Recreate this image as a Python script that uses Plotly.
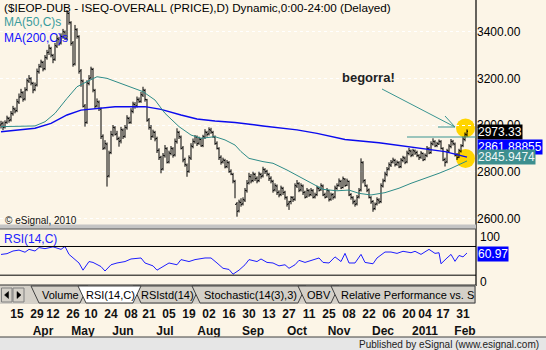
import plotly.graph_objects as go

# ---------------- data ----------------
close = [3005, 2990, 3010, 3030, 3020, 3050, 3070, 3060, 3100, 3120,
         3140, 3110, 3150, 3190, 3200, 3180, 3150, 3170, 3230, 3250,
         3270, 3240, 3290, 3310, 3330, 3300, 3280, 3340, 3370, 3350,
         3380, 3400, 3370, 3480, 3440, 3350, 3260, 3410, 3380, 3230,
         3190, 3080, 3010, 3180, 3200, 3240, 3150, 3080, 3100, 3070,
         2950, 2900, 2920, 2780, 2880, 2960, 2990, 2960, 2940, 2930,
         2980, 2950, 2990, 3030, 3010, 3060, 3090, 3080, 3110, 3100,
         3130, 3150, 3110, 3020, 2990, 2950, 2970, 2940, 2890, 2860,
         2810, 2870, 2900, 2840, 2880, 2900, 2870, 2930, 2970, 2950,
         2900, 2850, 2830, 2800, 2860, 2910, 2930, 2950, 2920, 2940,
         2910, 2950, 2970, 2960, 2980, 2970, 2950, 2920, 2900, 2860,
         2840, 2850, 2820, 2840, 2800, 2790, 2760, 2660, 2630, 2670,
         2660, 2680, 2720, 2750, 2780, 2760, 2790, 2770, 2760, 2790,
         2780, 2810, 2800, 2790, 2770, 2760, 2720, 2740, 2710, 2700,
         2730, 2710, 2690, 2660, 2670, 2690, 2680, 2740, 2750, 2720,
         2740, 2710, 2690, 2720, 2700, 2720, 2690, 2700, 2730, 2720,
         2740, 2700, 2690, 2720, 2680, 2700, 2690, 2730, 2740, 2760,
         2730, 2770, 2740, 2760, 2700, 2690, 2670, 2660, 2690, 2720,
         2840, 2760, 2740, 2720, 2690, 2670, 2640, 2660, 2680, 2670,
         2740, 2760, 2790, 2810, 2830, 2840, 2850, 2830, 2840, 2820,
         2850, 2860, 2840, 2880, 2890, 2870, 2890, 2880, 2870, 2860,
         2880, 2850, 2870, 2900, 2880, 2920, 2930, 2910, 2920, 2930,
         2900, 2850, 2840, 2890, 2910, 2930, 2920, 2870, 2860, 2890,
         2910, 2940, 2960, 2973.33]

open_ = [3000, 3008, 2992, 3012, 3028, 3022, 3048, 3068, 3062, 3098,
         3122, 3138, 3112, 3152, 3188, 3198, 3178, 3152, 3172, 3228,
         3252, 3268, 3242, 3288, 3312, 3328, 3298, 3282, 3338, 3368,
         3352, 3378, 3398, 3372, 3478, 3438, 3352, 3262, 3408, 3378,
         3232, 3188, 3082, 3012, 3178, 3202, 3238, 3148, 3082, 3098,
         3068, 2952, 2902, 2918, 2782, 2882, 2958, 2988, 2962, 2942,
         2932, 2978, 2952, 2988, 3028, 3012, 3058, 3088, 3082, 3108,
         3102, 3128, 3148, 3108, 3022, 2988, 2952, 2968, 2942, 2892,
         2862, 2812, 2868, 2898, 2842, 2878, 2898, 2872, 2928, 2968,
         2948, 2902, 2852, 2828, 2802, 2858, 2908, 2928, 2948, 2922,
         2938, 2912, 2948, 2968, 2962, 2978, 2968, 2948, 2922, 2898,
         2862, 2842, 2848, 2822, 2838, 2802, 2788, 2758, 2662, 2632,
         2668, 2662, 2678, 2718, 2752, 2778, 2762, 2788, 2772, 2762,
         2788, 2782, 2808, 2802, 2788, 2772, 2758, 2722, 2738, 2712,
         2702, 2728, 2712, 2688, 2662, 2672, 2688, 2682, 2738, 2748,
         2722, 2738, 2712, 2692, 2718, 2702, 2718, 2692, 2702, 2728,
         2722, 2738, 2702, 2692, 2718, 2682, 2702, 2692, 2728, 2742,
         2758, 2732, 2768, 2742, 2758, 2702, 2688, 2672, 2662, 2692,
         2722, 2838, 2762, 2738, 2722, 2688, 2672, 2642, 2662, 2678,
         2672, 2738, 2762, 2788, 2812, 2828, 2842, 2848, 2832, 2838,
         2822, 2848, 2858, 2842, 2878, 2888, 2872, 2888, 2882, 2868,
         2862, 2878, 2852, 2868, 2898, 2882, 2918, 2928, 2912, 2918,
         2928, 2898, 2852, 2842, 2888, 2908, 2928, 2918, 2872, 2862,
         2888, 2912, 2938, 2958]

high = [3018, 3015, 3020, 3040, 3035, 3060, 3082, 3075, 3112, 3135,
        3155, 3145, 3162, 3200, 3214, 3205, 3185, 3182, 3242, 3262,
        3280, 3275, 3300, 3322, 3345, 3335, 3305, 3352, 3385, 3378,
        3393, 3412, 3405, 3493, 3485, 3445, 3360, 3429, 3415, 3385,
        3240, 3195, 3090, 3192, 3214, 3250, 3245, 3155, 3114, 3105,
        3075, 2960, 2935, 2925, 2890, 2975, 3000, 2995, 2975, 2950,
        2992, 2985, 3000, 3042, 3035, 3072, 3100, 3098, 3122, 3118,
        3142, 3164, 3155, 3112, 3030, 3000, 2980, 2975, 2950, 2900,
        2868, 2880, 2914, 2905, 2890, 2910, 2905, 2942, 2986, 2975,
        2955, 2910, 2860, 2835, 2870, 2922, 2942, 2957, 2955, 2950,
        2945, 2958, 2982, 2975, 2990, 2988, 2975, 2955, 2930, 2905,
        2870, 2860, 2855, 2850, 2845, 2810, 2795, 2765, 2670, 2680,
        2686, 2690, 2730, 2764, 2795, 2790, 2800, 2795, 2780, 2800,
        2795, 2821, 2815, 2808, 2795, 2780, 2765, 2750, 2745, 2720,
        2740, 2735, 2718, 2695, 2675, 2695, 2695, 2750, 2764, 2755,
        2750, 2745, 2718, 2730, 2725, 2730, 2725, 2710, 2740, 2736,
        2750, 2745, 2710, 2730, 2722, 2710, 2708, 2740, 2750, 2771,
        2765, 2779, 2772, 2770, 2762, 2708, 2695, 2680, 2700, 2730,
        2857, 2845, 2768, 2745, 2728, 2695, 2678, 2668, 2690, 2686,
        2750, 2770, 2800, 2820, 2840, 2850, 2860, 2855, 2848, 2845,
        2858, 2868, 2865, 2890, 2902, 2895, 2898, 2895, 2890, 2875,
        2888, 2882, 2878, 2910, 2905, 2930, 2943, 2935, 2928, 2938,
        2935, 2905, 2860, 2898, 2918, 2940, 2936, 2925, 2880, 2898,
        2918, 2950, 2968, 2981]

low = [2985, 2978, 2985, 3005, 3010, 3015, 3040, 3050, 3055, 3090,
       3115, 3100, 3105, 3145, 3180, 3170, 3136, 3145, 3165, 3220,
       3245, 3230, 3235, 3280, 3300, 3290, 3265, 3275, 3330, 3340,
       3345, 3370, 3364, 3365, 3430, 3340, 3250, 3255, 3370, 3220,
       3164, 3075, 2993, 3005, 3170, 3195, 3140, 3070, 3075, 3060,
       2940, 2893, 2895, 2736, 2775, 2875, 2950, 2955, 2935, 2907,
       2921, 2940, 2945, 2980, 3005, 3005, 3050, 3070, 3075, 3095,
       3095, 3120, 3100, 3014, 2980, 2936, 2945, 2930, 2880, 2850,
       2793, 2805, 2860, 2835, 2835, 2870, 2860, 2865, 2920, 2940,
       2895, 2840, 2821, 2778, 2795, 2850, 2900, 2920, 2910, 2915,
       2907, 2905, 2940, 2950, 2955, 2962, 2945, 2915, 2895, 2850,
       2830, 2835, 2814, 2815, 2795, 2785, 2750, 2686, 2607, 2625,
       2650, 2655, 2670, 2710, 2745, 2750, 2755, 2760, 2750, 2755,
       2770, 2775, 2790, 2780, 2760, 2750, 2710, 2715, 2700, 2690,
       2695, 2700, 2680, 2650, 2636, 2660, 2670, 2675, 2730, 2712,
       2715, 2700, 2685, 2688, 2692, 2695, 2685, 2685, 2695, 2715,
       2718, 2695, 2685, 2688, 2672, 2675, 2680, 2685, 2722, 2735,
       2725, 2728, 2735, 2738, 2695, 2680, 2660, 2650, 2655, 2685,
       2715, 2750, 2735, 2712, 2685, 2662, 2628, 2635, 2655, 2662,
       2665, 2732, 2755, 2780, 2805, 2820, 2835, 2822, 2825, 2815,
       2815, 2840, 2832, 2836, 2870, 2862, 2865, 2872, 2862, 2850,
       2855, 2845, 2848, 2862, 2875, 2876, 2912, 2905, 2905, 2915,
       2895, 2845, 2822, 2836, 2882, 2900, 2912, 2865, 2850, 2858,
       2882, 2905, 2930, 2950]

ma50_x = [0, 17, 22, 27, 33, 38, 43, 48, 53, 60, 65, 71, 77, 82, 89, 95, 100, 107,
          112, 117, 120, 124, 131, 136, 143, 149, 156, 161, 168, 174, 179, 185, 192,
          199, 205, 212, 219, 225, 231, 233]
ma50_y = [2993, 2996, 3014, 3050, 3114, 3164, 3186, 3207, 3200, 3179, 3164, 3143, 3107,
          3050, 2993, 2957, 2943, 2950, 2936, 2914, 2886, 2857, 2843, 2836, 2807, 2779,
          2750, 2724, 2718, 2721, 2707, 2700, 2710, 2729, 2750, 2771, 2793, 2814, 2840,
          2845.9474]

ma200_x = [0, 17, 25, 33, 40, 47, 57, 72, 80, 90, 98, 107, 117, 131, 148, 158, 172,
           189, 205, 214, 222, 233]
ma200_y = [2971, 2986, 3007, 3043, 3064, 3071, 3078, 3079, 3067, 3043, 3026, 3017, 3011,
           2996, 2979, 2964, 2938, 2924, 2907, 2896, 2886, 2862]

rsi_x = [0, 3, 6, 9, 12, 14, 17, 19, 22, 26, 30, 32, 34, 37, 39, 41, 44, 46, 50, 52,
         55, 58, 62, 65, 70, 72, 76, 78, 81, 84, 88, 90, 94, 97, 102, 105, 108, 111,
         114, 116, 119, 122, 124, 128, 130, 133, 136, 139, 142, 144, 147, 149, 152,
         155, 159, 161, 164, 167, 170, 172, 174, 177, 180, 182, 186, 188, 192, 195,
         198, 201, 205, 207, 210, 214, 217, 219, 220, 223, 225, 227, 229, 231, 233]
rsi_y = [58.9, 60, 63.7, 65, 62, 66, 63.7, 68.5, 67, 69.5, 66, 70, 59, 51.7, 47, 37,
         49, 47.8, 42, 35.8, 44.5, 47, 49, 52.6, 54, 47, 43, 37, 42, 47, 44.5, 51.7,
         49, 51.7, 54, 54, 47, 39.6, 38, 31.4, 37, 44.5, 51.7, 49, 52.6, 47.8, 47,
         43, 44.5, 39.6, 44.5, 50.7, 47.8, 50.2, 54, 47.8, 47, 55.5, 49, 60.4, 47,
         47, 59, 47.8, 45.9, 54, 62.3, 62.3, 60.4, 63.3, 61.3, 63.3, 59, 66, 60.4,
         61.3, 45.9, 54, 59, 49.3, 57.5, 55.5, 60.97]

date_ticks = [8, 18, 26, 36, 45, 55, 65, 74, 84, 94, 104, 114, 124, 134, 144, 154,
              164, 174, 184, 194, 204, 212, 221, 231]
date_labels = ["15", "29", "12", "26", "10", "24", "08", "21", "05", "19", "02", "16",
               "30", "13", "27", "11", "25", "08", "22", "06", "20", "04", "17", "31"]
month_ticks = [21, 41, 61, 82, 104, 126, 148, 169, 191, 212, 232]
month_labels = ["Apr", "May", "Jun", "Jul", "Aug", "Sep", "Oct", "Nov", "Dec", "2011", "Feb"]

price_ticks = [2600, 2800, 3000, 3200, 3400]
rsi_levels = [70, 30]

# ---------------- layout helpers (pixel -> paper) ----------------
W, H = 546, 350
PW, PH = 476, 284
BG = "#FCF5E7"
FONT = "Liberation Sans"


def px(x):
    return x / PW


def py(y):
    return (PH - y) / PH


fig = go.Figure()
n = len(close)
idx = list(range(n))

fig.add_trace(go.Ohlc(x=idx, open=open_, high=high, low=low, close=close,
                      xaxis="x", yaxis="y", tickwidth=0.5, hoverinfo="skip",
                      increasing=dict(line=dict(color="black", width=1)),
                      decreasing=dict(line=dict(color="black", width=1))))
fig.add_trace(go.Scatter(x=ma200_x, y=ma200_y, mode="lines", xaxis="x", yaxis="y",
                         line=dict(color="#0a0aee", width=1.4), hoverinfo="skip"))
fig.add_trace(go.Scatter(x=ma50_x, y=ma50_y, mode="lines", xaxis="x", yaxis="y",
                         line=dict(color="#2e8c88", width=1), hoverinfo="skip"))
fig.add_trace(go.Scatter(x=rsi_x, y=rsi_y, mode="lines", xaxis="x", yaxis="y2",
                         line=dict(color="#1e1eff", width=1), hoverinfo="skip"))
fig.add_trace(go.Scatter(x=[], y=[], xaxis="x3", yaxis="y2", hoverinfo="skip"))

XR = [-0.5, 237.5]
tickfont_b = dict(family=FONT, size=12, color="#111111", weight="bold")

fig.update_layout(
    width=W, height=H, margin=dict(l=0, r=W - PW, t=0, b=H - PH),
    paper_bgcolor=BG, plot_bgcolor="rgba(0,0,0,0)", showlegend=False,
    font=dict(family=FONT, size=12, color="black"), hovermode=False,
    xaxis=dict(domain=[0, 1], range=XR, anchor="y2", tickmode="array",
               tickvals=date_ticks, ticktext=date_labels, ticks="", tickangle=0,
               showgrid=False, zeroline=False, showline=False,
               tickfont=tickfont_b, ticklabelstandoff=21,
               rangeslider=dict(visible=False)),
    xaxis3=dict(overlaying="x", anchor="y2", range=XR, tickmode="array",
                tickvals=month_ticks, ticktext=month_labels, ticks="", tickangle=0,
                showgrid=False, zeroline=False, showline=False,
                tickfont=tickfont_b, ticklabelstandoff=38),
    yaxis=dict(domain=[py(224), 1], range=[2575.6, 3535.9], side="right", anchor="x",
               tickmode="array", tickvals=price_ticks,
               ticktext=[f"{v:.2f}" for v in price_ticks], ticks="",
               showgrid=True, gridcolor="white", griddash="dot", gridwidth=1,
               zeroline=False, showline=False,
               tickfont=dict(family=FONT, size=12, color="black")),
    yaxis2=dict(domain=[0, py(230)], range=[17.7, 93.0], anchor="x",
                showticklabels=False, showgrid=False, zeroline=False, showline=False),
)

shapes = []
ann = []


def line_px(x0, y0, x1, y1, color, width=1, layer="above"):
    shapes.append(dict(type="line", xref="paper", yref="paper", x0=px(x0), y0=py(y0),
                       x1=px(x1), y1=py(y1), line=dict(color=color, width=width),
                       layer=layer))


def rect_px(x0, y0, x1, y1, fill, lcolor=None, lwidth=0, layer="above"):
    shapes.append(dict(type="rect", xref="paper", yref="paper", x0=px(x0), y0=py(y0),
                       x1=px(x1), y1=py(y1), fillcolor=fill,
                       line=dict(color=lcolor or fill, width=lwidth), layer=layer))


def path_px(points, fill, lcolor, lwidth=1):
    d = "M " + " L ".join(f"{px(x):.5f},{py(y):.5f}" for x, y in points) + " Z"
    shapes.append(dict(type="path", xref="paper", yref="paper", path=d, fillcolor=fill,
                       line=dict(color=lcolor, width=lwidth), layer="above"))


def text_px(x, y, s, size=12, color="black", xanchor="left", bold=False, bg=None,
            family=FONT):
    a = dict(xref="paper", yref="paper", x=px(x), y=py(y), text=s, showarrow=False,
             xanchor=xanchor, yanchor="middle",
             font=dict(family=family, size=size, color=color,
                       weight="bold" if bold else "normal"))
    if bg:
        a.update(bgcolor=bg, borderpad=0)
    ann.append(a)


# yellow highlight circles (beneath data)
shapes.append(dict(type="circle", xref="paper", yref="paper", x0=px(456), x1=px(475),
                   y0=py(137.5), y1=py(118.5), fillcolor="#FFD500",
                   line=dict(color="#FFD500", width=0), layer="below"))
shapes.append(dict(type="circle", xref="paper", yref="paper", x0=px(456), x1=px(475),
                   y0=py(168), y1=py(149), fillcolor="#FFD500",
                   line=dict(color="#FFD500", width=0), layer="below"))

# right axis line
line_px(476, 0, 476, 286, "black", 1.2)
# panel separator
rect_px(0, 224.5, 476, 229, "#c4c4c4")
line_px(0, 229, 476, 229, "#555555", 1)
# RSI 70/30 levels
for lv in rsi_levels:
    shapes.append(dict(type="line", xref="paper", yref="y2", x0=0, x1=1, y0=lv, y1=lv,
                       line=dict(color="black", width=1)))

# resistance line and arrow (teal)
TEAL = "#3a9591"
line_px(407, 137, 476, 137, TEAL, 1)
line_px(382, 89, 455, 127, TEAL, 1)
line_px(455, 127, 438, 127, TEAL, 1)
line_px(455, 127, 445, 116, TEAL, 1)

# tab strip
rect_px(0, 285, 476, 304, "#d4d0c8")
line_px(0, 285, 476, 285, "#303030", 1)
rect_px(1.5, 288, 12, 302, "#d4d0c8", "#808080", 1)
rect_px(13, 288, 24, 302, "#d4d0c8", "#808080", 1)
path_px([(8.5, 291.5), (4.5, 295), (8.5, 298.5)], "black", "black", 0.5)
path_px([(17, 291.5), (21, 295), (17, 298.5)], "black", "black", 0.5)
TAB = "#d4d0c8"
EDGE = "#404040"
path_px([(31, 286), (39, 303), (80, 303), (88, 286)], TAB, EDGE)
path_px([(133, 286), (141, 303), (192, 303), (200, 286)], TAB, EDGE)
path_px([(192, 286), (200, 303), (298, 303), (306, 286)], TAB, EDGE)
path_px([(298, 286), (306, 303), (331, 303), (339, 286)], TAB, EDGE)
path_px([(331, 286), (339, 303), (475, 303), (475, 286)], TAB, EDGE)
path_px([(78, 286), (86, 303), (133, 303), (141, 286)], "white", EDGE)

# footer
rect_px(0, 337, W, 351, "#e6e6e6")
line_px(0, 337, W, 337, "#404040", 1)

# texts
text_px(2, 8, "($IEOP-DUB - ISEQ-OVERALL (PRICE),D) Dynamic,0:00-24:00 (Delayed)", 11.7)
text_px(2, 22, "MA(50,C)s", 12, "#3a9c9c")
text_px(2, 37.5, "MA(200,C)s", 12, "#1010ff")
text_px(3, 220, "© eSignal, 2010", 10, "#111111")
text_px(340, 78, "begorra!", 13, "#222222", bold=True)
text_px(477, 131.5, "2973.33", 12, "white", bg="black")
text_px(477, 147, "2861.88855", 12, "white", bg="#0000ff")
text_px(477, 157, "2845.9474", 12, "#eef6f6", bg="#3d8f8f")
text_px(477, 254, "60.97", 12, "white", bg="#0000ff")
text_px(478, 237, "100", 12)
text_px(478, 282, "0", 12)
text_px(2, 239, "RSI(14,C)", 12, "#2020ff")
text_px(60, 295, "Volume", 11, xanchor="center")
text_px(110, 295, "RSI(14,C)", 11, xanchor="center")
text_px(167, 295, "RSIstd(14)", 11, xanchor="center")
text_px(250, 295, "Stochastic(14(3),3)", 11, xanchor="center")
text_px(319, 295, "OBV", 11, xanchor="center")
text_px(339, 295, "Relative Performance vs. S", 11)
text_px(541, 344, "Published by eSignal (www.esignal.com)", 10, "#222222", xanchor="right")

fig.update_layout(shapes=shapes, annotations=ann)
fig.write_html("out.html")
